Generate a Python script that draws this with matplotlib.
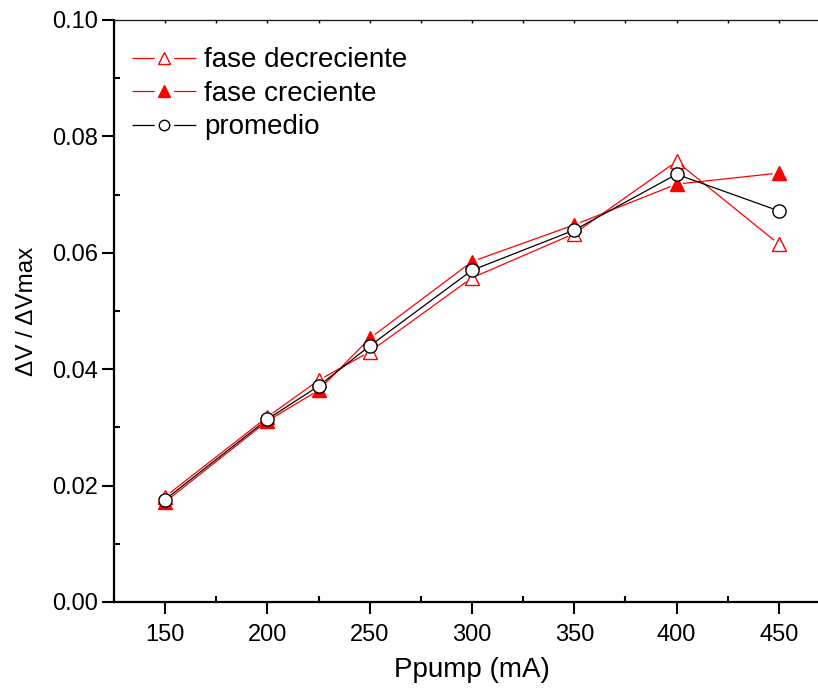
import numpy as np
import matplotlib
matplotlib.use("Agg")
import matplotlib.pyplot as plt
from matplotlib.ticker import MultipleLocator, FixedLocator, FormatStrFormatter
from matplotlib.lines import Line2D
from matplotlib.legend_handler import HandlerTuple

plt.rcParams['font.family'] = ['Liberation Sans', 'DejaVu Sans']
plt.rcParams['lines.scale_dashes'] = False

ppump = [150, 200, 225, 250, 300, 350, 400, 450]
fase_decreciente = [0.0181, 0.0318, 0.0381, 0.0430, 0.0557, 0.0633, 0.0757, 0.0615]
fase_creciente = [0.0172, 0.0311, 0.0364, 0.0453, 0.0585, 0.0648, 0.0718, 0.0737]
promedio = [0.0176, 0.0314, 0.0371, 0.0440, 0.0570, 0.0639, 0.0735, 0.0672]

x_ticks = [150, 200, 250, 300, 350, 400, 450]

fig = plt.figure(figsize=(8.18, 6.89), dpi=100)
ax = fig.add_axes([114 / 818, 87 / 689, (830 - 114) / 818, 582 / 689])
ax.set_xlim(125, 475)
ax.set_ylim(0.0, 0.10)

series = [
    (fase_decreciente, 'red', '^', 'none', 'fase decreciente', 10.5, 8.5),
    (fase_creciente, 'red', '^', 'red', 'fase creciente', 10.5, 8.5),
    (promedio, 'black', 'o', 'white', 'promedio', 9.5, 7.5),
]

fig.canvas.draw()
trans = ax.transData
inv = trans.inverted()
gap = 7.0  # pixels left open between connecting lines and symbols

handles = []
for ys, col, mk, fc, lab, ms, lms in series:
    pts = trans.transform(np.column_stack([ppump, ys]))
    for p0, p1 in zip(pts[:-1], pts[1:]):
        d = p1 - p0
        L = np.hypot(*d)
        if L <= 2 * gap:
            continue
        u = d / L
        a = inv.transform(p0 + u * gap)
        b = inv.transform(p1 - u * gap)
        ax.plot([a[0], b[0]], [a[1], b[1]], color=col, lw=0.9, zorder=2)
    ax.plot(ppump, ys, ls='none', marker=mk, ms=ms, mfc=fc, mec=col,
            mew=1.0, zorder=3)
    # legend entry: broken line with the symbol in the gap
    seg = Line2D([], [], color=col, lw=0.9, ls=(0, (16, 14, 16, 60)))
    sym = Line2D([], [], ls='none', marker=mk, ms=lms, mfc=fc, mec=col, mew=1.0)
    handles.append((seg, sym))

leg = ax.legend(handles, [s[4] for s in series], loc='upper left',
                bbox_to_anchor=(0.0, 0.984), frameon=False, fontsize=20,
                handler_map={tuple: HandlerTuple(ndivide=1, pad=0)},
                handlelength=2.3, handletextpad=0.3, labelspacing=0.27,
                borderaxespad=0.35, borderpad=0.3)

ax.xaxis.set_major_locator(FixedLocator(x_ticks))
ax.xaxis.set_minor_locator(MultipleLocator(25))
ax.yaxis.set_major_locator(MultipleLocator(0.02))
ax.yaxis.set_minor_locator(MultipleLocator(0.01))
ax.yaxis.set_major_formatter(FormatStrFormatter('%.2f'))

ax.tick_params(axis='both', which='major', direction='out', length=8.5,
               width=1.5, labelsize=17, pad=3)
ax.tick_params(axis='both', which='minor', direction='in', length=4.5,
               width=1.5)
ax.tick_params(axis='x', which='major', pad=7)

for side in ('left', 'bottom'):
    ax.spines[side].set_linewidth(1.6)
ax.spines['top'].set_linewidth(1.0)
ax.spines['top'].set_color('#222222')
ax.spines['right'].set_visible(False)

top = ax.secondary_xaxis('top')
top.xaxis.set_major_locator(MultipleLocator(25))
top.tick_params(direction='in', length=2, width=1.0, labeltop=False)
top.spines['top'].set_visible(False)

ax.set_xlabel('Ppump (mA)', fontsize=20, labelpad=8)
ax.set_ylabel('ΔV / ΔVmax', fontsize=17.5, labelpad=10)

fig.savefig('out.png', dpi=100)
